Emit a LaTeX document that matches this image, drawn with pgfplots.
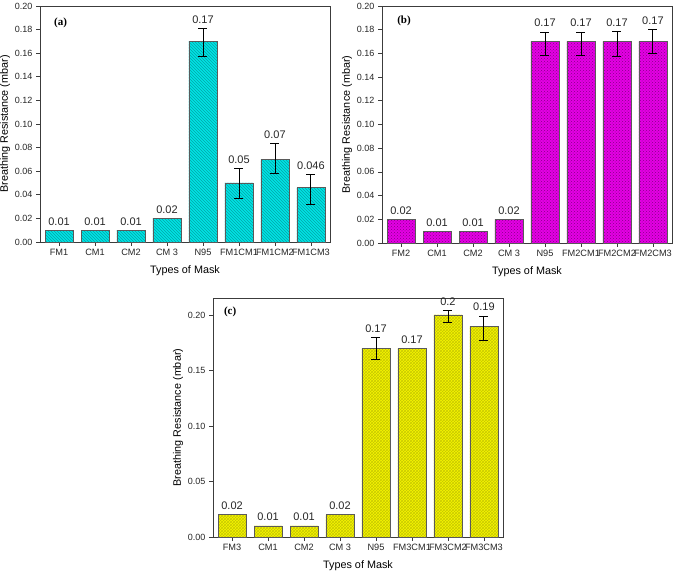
\documentclass[border=0pt]{standalone}
\usepackage{pgfplots}
\pgfplotsset{compat=1.18}
\usepackage{pgfplotstable}
\usepackage{fontspec}
\setmainfont{Liberation Sans}
\newfontfamily\serifb{Liberation Serif}
\usetikzlibrary{patterns}

\definecolor{cyanF}{RGB}{0,228,228}
\definecolor{cyanP}{RGB}{0,165,170}
\definecolor{magF}{RGB}{228,0,228}
\definecolor{magP}{RGB}{135,0,135}
\definecolor{yelF}{RGB}{245,245,0}
\definecolor{yelP}{RGB}{200,200,0}
\definecolor{axgray}{RGB}{60,60,60}
\definecolor{edgegray}{RGB}{90,90,90}

% ---------- panel (a) ----------
\pgfplotstableread{
x y
0 0.01
1 0.01
2 0.01
3 0.02
4 0.17
5 0.05
6 0.07
7 0.046
}\barsA
\pgfplotstableread{
x y ep em
4 0.17 0.011 0.013
5 0.05 0.0125 0.013
6 0.07 0.0135 0.012
7 0.046 0.011 0.014
}\errA
\pgfplotstableread{
x ly lab
0 0.01 0.01
1 0.01 0.01
2 0.01 0.01
3 0.02 0.02
4 0.181 0.17
5 0.0625 0.05
6 0.0835 0.07
7 0.057 0.046
}\labA

% ---------- panel (b) ----------
\pgfplotstableread{
x y
0 0.02
1 0.01
2 0.01
3 0.02
4 0.17
5 0.17
6 0.17
7 0.17
}\barsB
\pgfplotstableread{
x y ep em
4 0.17 0.008 0.012
5 0.17 0.008 0.012
6 0.17 0.0085 0.0125
7 0.17 0.010 0.010
}\errB
\pgfplotstableread{
x ly lab
0 0.02 0.02
1 0.01 0.01
2 0.01 0.01
3 0.02 0.02
4 0.178 0.17
5 0.178 0.17
6 0.1785 0.17
7 0.180 0.17
}\labB

% ---------- panel (c) ----------
\pgfplotstableread{
x y
0 0.02
1 0.01
2 0.01
3 0.02
4 0.17
5 0.17
6 0.20
7 0.19
}\barsC
\pgfplotstableread{
x y ep em
4 0.17 0.010 0.010
6 0.20 0.004 0.007
7 0.19 0.009 0.013
}\errC
\pgfplotstableread{
x ly lab
0 0.02 0.02
1 0.01 0.01
2 0.01 0.01
3 0.02 0.02
4 0.180 0.17
5 0.17 0.17
6 0.204 0.2
7 0.199 0.19
}\labC

\pgfplotsset{
  mypanel/.style={
    scale only axis,
    width=290pt,
    ymin=0,
    xmin=-0.53, xmax=7.53,
    xtick={0,...,7},
    tick align=outside,
    xtick pos=bottom, ytick pos=left,
    axis line style={axgray, line width=0.7pt},
    major tick length=4pt,
    every tick/.style={axgray, line width=0.7pt},
    ticklabel style={font=\fontsize{9}{10}\selectfont, text=black!85},
    xticklabel style={font=\fontsize{9.2}{10}\selectfont},
    yticklabel style={/pgf/number format/.cd, fixed, fixed zerofill, precision=2, assume math mode=true},
    xlabel={Types of Mask},
    ylabel={Breathing Resistance (mbar)},
    xlabel style={font=\fontsize{10.8}{12}\selectfont, yshift=-3pt},
    ylabel style={font=\fontsize{10.8}{12}\selectfont, yshift=-2pt},
    clip=false,
  },
  errstyle/.style={draw=none, forget plot,
    error bars/.cd, y dir=both, y explicit,
    error bar style={black, line width=0.9pt},
    error mark options={rotate=90, mark size=4.5pt, black, line width=0.9pt}},
  labstyle/.style={only marks, mark=text, text mark={},
    nodes near coords, point meta=explicit symbolic,
    nodes near coords style={font=\fontsize{11}{12}\selectfont, anchor=south, yshift=1.5pt, text=black!85}},
}

\begin{document}
\begin{tikzpicture}
\useasboundingbox (0,0) rectangle (675pt,573pt);

% (a)
\begin{axis}[mypanel, at={(40pt,331pt)}, anchor=south west, height=236pt,
  ymax=0.20, ytick={0,0.02,...,0.201},
  xticklabels={FM1,CM1,CM2,CM 3,N95,FM1CM1,FM1CM2,FM1CM3}]
\addplot[ybar, bar width=0.78, fill=cyanF, draw=edgegray, line width=0.6pt,
  postaction={pattern=north west lines, pattern color=cyanP}] table[x=x,y=y] {\barsA};
\addplot[errstyle] table[x=x, y=y, y error plus=ep, y error minus=em] {\errA};
\addplot[labstyle] table[x=x, y=ly, meta=lab] {\labA};
\node[font=\serifb\bfseries\fontsize{11}{12}\selectfont] at (rel axis cs:0.071,0.928) {(a)};
\end{axis}

% (b)
\begin{axis}[mypanel, at={(382pt,330pt)}, anchor=south west, height=237pt,
  ymax=0.20, ytick={0,0.02,...,0.201},
  xticklabels={FM2,CM1,CM2,CM 3,N95,FM2CM1,FM2CM2,FM2CM3}]
\addplot[ybar, bar width=0.78, fill=magF, draw=edgegray, line width=0.6pt,
  postaction={pattern=crosshatch dots, pattern color=magP}] table[x=x,y=y] {\barsB};
\addplot[errstyle] table[x=x, y=y, y error plus=ep, y error minus=em] {\errB};
\addplot[labstyle] table[x=x, y=ly, meta=lab] {\labB};
\node[font=\serifb\bfseries\fontsize{11}{12}\selectfont] at (rel axis cs:0.076,0.937) {(b)};
\end{axis}

% (c)
\begin{axis}[mypanel, at={(213pt,36pt)}, anchor=south west, height=239pt,
  ymax=0.2153, ytick={0,0.05,...,0.201},
  xticklabels={FM3,CM1,CM2,CM 3,N95,FM3CM1,FM3CM2,FM3CM3}]
\addplot[ybar, bar width=0.78, fill=yelF, draw=edgegray, line width=0.6pt,
  postaction={pattern=crosshatch, pattern color=yelP}] table[x=x,y=y] {\barsC};
\addplot[errstyle] table[x=x, y=y, y error plus=ep, y error minus=em] {\errC};
\addplot[labstyle] table[x=x, y=ly, meta=lab] {\labC};
\node[font=\serifb\bfseries\fontsize{11}{12}\selectfont] at (rel axis cs:0.059,0.94) {(c)};
\end{axis}
\end{tikzpicture}
\end{document}
